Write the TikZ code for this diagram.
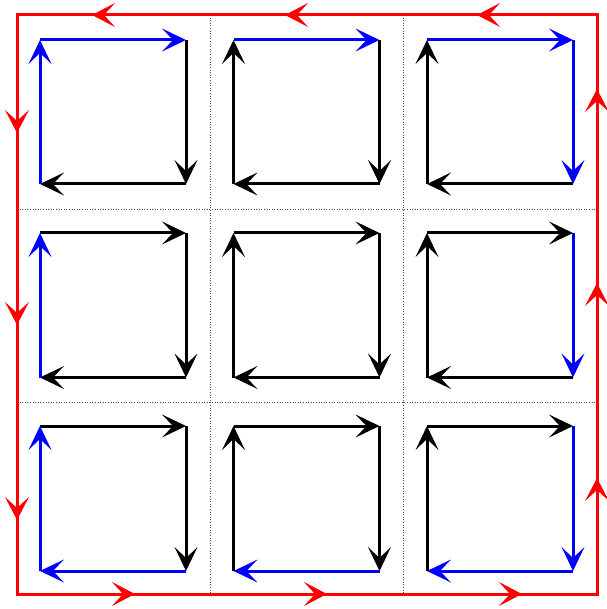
\documentclass[tikz,border=0pt]{standalone}
\usetikzlibrary{calc}
\definecolor{qblue}{RGB}{0,0,255}
\definecolor{qred}{RGB}{255,0,0}
% arrow from #1 to #2 in colour #3, head drawn explicitly
\newcommand\qvec[3]{%
  \draw[#3,line width=3pt,shorten >=11pt] (#1) -- (#2);
  \fill[#3] (#2) -- ($(#2)!26.6pt!25.6:(#1)$) -- ($(#2)!13pt!(#1)$)
     -- ($(#2)!26.6pt!-25.6:(#1)$) -- cycle;}
\newcommand\qhead[3]{%
  \fill[#3] (#2) -- ($(#2)!26pt!27.5:(#1)$) -- ($(#2)!12pt!(#1)$)
     -- ($(#2)!26pt!-27.5:(#1)$) -- cycle;}
\begin{document}
\begin{tikzpicture}[x=1pt,y=-1pt,
  gridline/.style={black!70,line width=0.6pt,dotted},
  outline/.style={qred,line width=3pt,line join=miter}]
\useasboundingbox (0,0) rectangle (606,609);
% outer frame corners
\coordinate (A) at (17,15);
\coordinate (B) at (597,15);
\coordinate (C) at (597,594);
\coordinate (D) at (17,594);
% dotted grid
\coordinate (v1t) at (210,15);  \coordinate (v1b) at (210,594);
\coordinate (v2t) at (403,15);  \coordinate (v2b) at (403,594);
\coordinate (h1l) at (17,209);  \coordinate (h1r) at (597,209);
\coordinate (h2l) at (17,402);  \coordinate (h2r) at (597,402);
\draw[gridline] (v1t) -- (v1b);
\draw[gridline] (v2t) -- (v2b);
\draw[gridline] (h1l) -- (h1r);
\draw[gridline] (h2l) -- (h2r);
% red outline
\draw[outline] (A) -- (B) -- (C) -- (D) -- cycle;
% red arrowheads
\foreach \t [count=\i] in {92,285,477} {
  \coordinate (rt\i s) at (\t+30,15); \coordinate (rt\i e) at (\t,15);
  \qhead{rt\i s}{rt\i e}{qred}
}
\foreach \t [count=\i] in {133,325,520} {
  \coordinate (rl\i s) at (17,\t-30); \coordinate (rl\i e) at (17,\t);
  \qhead{rl\i s}{rl\i e}{qred}
}
\foreach \t [count=\i] in {135,327,522} {
  \coordinate (rb\i s) at (\t-30,594); \coordinate (rb\i e) at (\t,594);
  \qhead{rb\i s}{rb\i e}{qred}
}
\foreach \t [count=\i] in {89,283,478} {
  \coordinate (rr\i s) at (597,\t+30); \coordinate (rr\i e) at (597,\t);
  \qhead{rr\i s}{rr\i e}{qred}
}
% cells: row/col/top y/bottom y/left x/right x/ colours top,right,bottom,left
\foreach \r/\c/\yt/\yb/\xl/\xr/\ct/\cr/\cb/\cl in {
  1/1/40/184/40/186/qblue/black/black/qblue,
  1/2/40/184/233.5/379.5/qblue/black/black/black,
  1/3/40/184/427/573/qblue/qblue/black/black,
  2/1/233/377.5/40/186/black/black/black/qblue,
  2/2/233/377.5/233.5/379.5/black/black/black/black,
  2/3/233/377.5/427/573/black/qblue/black/black,
  3/1/426/571/40/186/black/black/qblue/qblue,
  3/2/426/571/233.5/379.5/black/black/qblue/black,
  3/3/426/571/427/573/black/qblue/qblue/black} {
  \coordinate (tl\r\c) at (\xl,\yt);
  \coordinate (tr\r\c) at (\xr,\yt);
  \coordinate (br\r\c) at (\xr,\yb);
  \coordinate (bl\r\c) at (\xl,\yb);
  \qvec{tl\r\c}{tr\r\c}{\ct}
  \qvec{tr\r\c}{br\r\c}{\cr}
  \qvec{br\r\c}{bl\r\c}{\cb}
  \qvec{bl\r\c}{tl\r\c}{\cl}
}
\end{tikzpicture}
\end{document}
